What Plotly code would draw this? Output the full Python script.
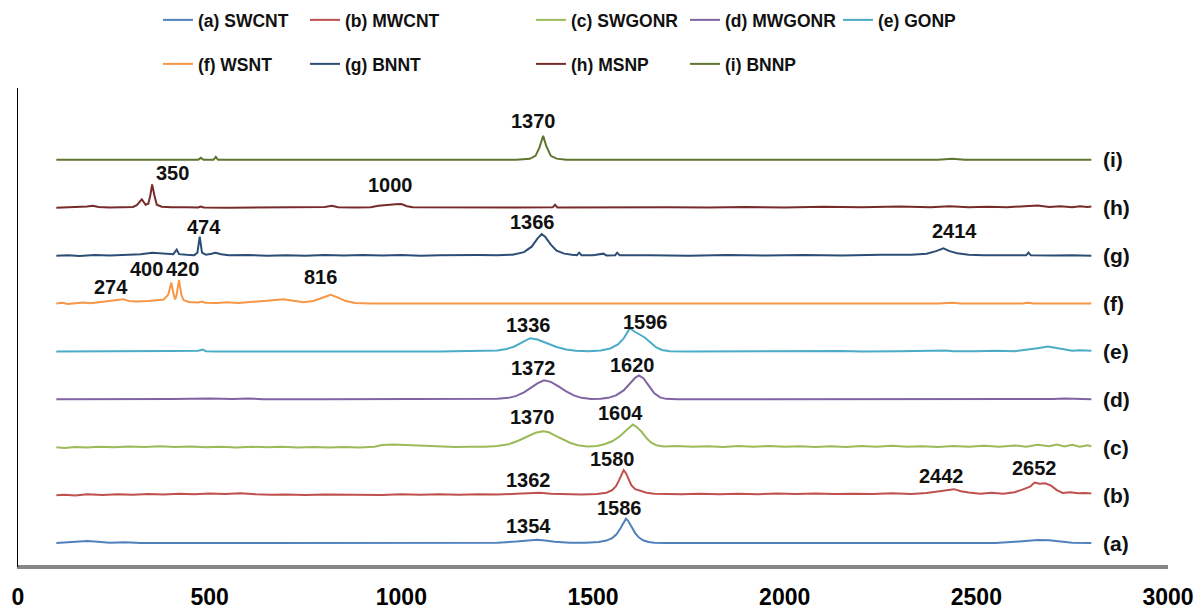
import plotly.graph_objects as go

# Raman spectra, (wavenumber cm-1, intensity a.u.) points for each sample
SWCNT = [(100, 0), (130, 0.8), (160, 1.8), (180, 2.0), (200, 1.5), (240, 0.3), (280, 0.8), (320, 0),
         (600, 0), (900, 0), (1150, 0), (1250, 0.4), (1300, 1.5), (1330, 2.8), (1354, 3.4), (1375, 2.6),
         (1400, 1.2), (1440, 0.4), (1480, 0.3), (1515, 1.0), (1535, 2.5), (1550, 5), (1562, 9), (1572, 15),
         (1580, 21), (1586, 24.4), (1592, 22), (1600, 17), (1610, 10), (1620, 5.5), (1632, 2.5), (1645, 1),
         (1660, 0.4), (1690, 0), (1800, 0), (2200, 0), (2550, 0), (2600, 1.2), (2640, 2.4), (2660, 3),
         (2690, 2.7), (2720, 1.2), (2750, 0.3), (2800, 0)]

MWCNT = [(100, 0), (120, 0.5), (150, -0.3), (180, 0.8), (220, 0.2), (260, 1.0), (300, 0.4), (340, 1.2),
         (380, 0.6), (420, 1.4), (460, 1.0), (500, 1.6), (540, 1.2), (580, 1.8), (620, 0.8), (660, 0.3),
         (700, 0.6), (750, 0.2), (800, 0.7), (850, 0.3), (900, 0.6), (950, 0.2), (1000, 0.9), (1050, 0.4),
         (1100, 0.8), (1150, 0.5), (1200, 1.0), (1250, 0.6), (1300, 1.3), (1335, 1.8), (1362, 2.4),
         (1390, 1.5), (1430, 0.9), (1470, 0.6), (1510, 1.2), (1535, 2.5), (1550, 5), (1560, 9), (1568, 15),
         (1574, 21), (1580, 25), (1586, 22), (1592, 16), (1600, 10), (1610, 6), (1625, 4), (1640, 2.5),
         (1660, 1.5), (1690, 1.2), (1730, 0.8), (1780, 1.4), (1830, 0.9), (1880, 1.5), (1930, 1.0),
         (1980, 1.6), (2030, 1.1), (2080, 1.7), (2130, 1.2), (2180, 1.5), (2230, 1.1), (2280, 1.8),
         (2330, 1.2), (2370, 2.2), (2400, 3.5), (2420, 4.5), (2442, 6), (2460, 4), (2480, 2.6), (2510, 1.5),
         (2540, 2.4), (2570, 1.3), (2600, 3), (2620, 5.5), (2640, 8.5), (2652, 12.6), (2665, 11.5),
         (2680, 11.8), (2695, 9.5), (2710, 5), (2725, 2.2), (2745, 2.8), (2765, 1.8), (2785, 2.2), (2800, 1.6)]

SWGONR = [(100, 0), (120, -0.8), (150, 0.3), (180, -0.2), (210, 0.6), (250, 0.1), (290, 0.8), (330, 0.2),
          (370, 0.9), (410, 0.3), (450, 0.7), (490, 0), (530, 0.6), (570, -0.2), (610, 0.5), (650, -0.1),
          (690, 0.4), (730, -0.3), (770, 0.3), (810, -0.2), (850, 0.2), (890, -0.3), (930, 0.6), (950, 2.2),
          (980, 2.8), (1010, 2.4), (1040, 2.0), (1070, 1.2), (1100, 0.6), (1140, 0.2), (1180, 0.5),
          (1220, 0.4), (1250, 1.2), (1280, 3), (1305, 6.5), (1330, 11), (1350, 14.5), (1370, 16),
          (1385, 15), (1400, 12), (1420, 8), (1440, 4.5), (1460, 2), (1485, 0.8), (1510, 1.2), (1530, 3),
          (1550, 6), (1570, 11), (1590, 18), (1604, 22.7), (1615, 20), (1628, 15), (1640, 9), (1652, 4.5),
          (1665, 2), (1685, 0.8), (1720, 1.2), (1760, 0.4), (1800, 1.0), (1840, 0.3), (1880, 1.2),
          (1920, 0.5), (1960, 1.3), (2000, 0.4), (2040, 1.1), (2080, 0.3), (2120, 1.0), (2160, 0.2),
          (2200, 1.2), (2240, 0.4), (2280, 1.6), (2320, 0.5), (2360, 1.0), (2400, 0.2), (2440, 1.2),
          (2480, 0.6), (2520, 1.4), (2560, 0.5), (2600, 1.8), (2630, 0.4), (2660, 2.6), (2690, 1.0),
          (2710, 2.8), (2730, 0.8), (2750, 2.5), (2770, 0.6), (2790, 2.0), (2800, 1.0)]

MWGONR = [(100, 0), (200, 0), (300, 0.5), (400, 0.3), (500, 0.8), (560, 0.3), (600, 0.8), (640, 0.2),
          (800, 0), (1000, 0), (1100, 0.5), (1140, 0.2), (1200, 0), (1250, 0.5), (1280, 1.5), (1300, 3.5),
          (1320, 7), (1340, 12), (1355, 16), (1372, 19), (1390, 17.5), (1410, 13), (1430, 8), (1450, 4),
          (1470, 1.5), (1495, 0.4), (1520, 0.5), (1540, 1.5), (1560, 4), (1580, 9), (1598, 16), (1610, 21.5),
          (1620, 24), (1632, 21), (1645, 14), (1660, 6), (1675, 2), (1690, 0.5), (1720, 0), (2600, 0),
          (2650, 0.6), (2700, 0.4), (2730, 0.8), (2760, 0.2), (2800, 0)]

GONP = [(100, 0), (300, 0), (400, 0.5), (470, 0.8), (482, 2), (490, 0.3), (520, 0), (1100, 0), (1200, 0.3),
        (1250, 1), (1275, 2.5), (1295, 5), (1315, 9), (1336, 13.3), (1355, 12), (1380, 8.5), (1405, 4.5),
        (1430, 2), (1455, 0.6), (1490, 0.2), (1520, 1), (1545, 3), (1565, 7), (1580, 13), (1590, 20),
        (1596, 23.3), (1606, 20.5), (1620, 17.5), (1635, 14), (1650, 9), (1665, 4), (1680, 1.5), (1700, 0.3),
        (1750, 0), (1900, 0.3), (2000, 0), (2150, 0.5), (2200, 0), (2250, 0.4), (2300, 0.3), (2420, 1.0),
        (2440, 0.2), (2500, 0.3), (2550, 0.8), (2600, 0.3), (2630, 1.5), (2660, 3.2), (2687, 5), (2710, 3.5),
        (2730, 2.2), (2750, 0.6), (2770, 1.2), (2790, 0.5), (2800, 0.8)]

WSNT = [(100, 0), (115, 0.8), (130, -0.4), (150, 0.5), (170, 1), (190, 0.3), (210, 1.2), (235, 2), (255, 3),
        (274, 4.4), (290, 2.5), (310, 2), (340, 2.5), (365, 3), (380, 4), (392, 9), (400, 21), (406, 9),
        (410, 4), (414, 9), (420, 23.7), (426, 9), (432, 3.5), (445, 1.5), (470, 1), (480, 2), (488, 0.8),
        (520, 0.5), (545, 1.2), (575, 0.6), (610, 1.5), (650, 2.8), (692, 4.4), (720, 3), (745, 1.2),
        (770, 2.5), (795, 6), (816, 8.7), (835, 6), (855, 2.5), (880, 0.6), (920, 0), (1500, 0), (2400, 0),
        (2437, 0.8), (2460, 0), (2620, 0), (2636, 0.8), (2650, 0), (2800, 0)]

BNNT = [(100, 0), (130, 0.5), (160, -0.3), (200, 0.6), (240, 0.2), (280, 0.8), (320, 1.5), (350, 3),
        (380, 2.5), (405, 1.5), (414, 6), (420, 1.5), (440, 0.8), (460, 0.5), (468, 3), (474, 19), (480, 3),
        (490, 1), (505, 2), (515, 3), (530, 1.5), (550, 0.3), (600, 0.6), (650, 0), (700, 0.5), (750, 0),
        (800, 0.6), (850, 0.1), (900, 0.7), (950, 0.2), (1000, 0.6), (1050, 0), (1100, 0.5), (1150, 0.2),
        (1200, 0.6), (1250, 0.4), (1290, 1), (1320, 3.5), (1340, 9), (1355, 17), (1366, 21.7), (1375, 19),
        (1390, 11), (1405, 5), (1425, 2), (1445, 0.8), (1458, 0.5), (1464, 3), (1470, 0.5), (1500, 0.3),
        (1527, 2), (1535, 0.2), (1558, 0.5), (1563, 3), (1570, 0.3), (1650, 0.5), (1750, 0), (1850, 0.6),
        (1950, 0.2), (2050, 0.7), (2150, 0.2), (2250, 0.8), (2330, 1), (2370, 2), (2395, 4.5), (2414, 7.3),
        (2430, 4.5), (2450, 2.5), (2480, 1), (2520, 0.5), (2580, 0.2), (2630, 0.3), (2636, 3), (2642, 0.3),
        (2700, 0.2), (2750, 0.5), (2800, 0)]

MSNP = [(100, 0), (150, 0.5), (180, 1.2), (195, 2), (210, 0.8), (240, 0.2), (270, 0.6), (300, 0.8),
        (310, 2.5), (323, 8.3), (333, 3), (340, 4), (345, 12), (350, 23.3), (356, 12), (362, 3), (375, 1),
        (400, 0.5), (440, 0.6), (470, 0.3), (476, 1.2), (485, 0.3), (550, 0), (650, 0.3), (750, 0.2),
        (800, 0.8), (819, 2), (835, 0.5), (880, 0.3), (920, 0.5), (940, 2), (965, 3.2), (985, 3.4),
        (1000, 3.7), (1015, 1.5), (1030, 0.4), (1100, 0.2), (1200, 0.5), (1300, 0.2), (1395, 0.4),
        (1401, 3), (1407, 0.3), (1500, 0.5), (1600, 0), (1700, 0.6), (1800, 0.2), (1900, 0.8), (2000, 0.3),
        (2100, 1.0), (2200, 0.4), (2300, 1.2), (2380, 0.5), (2430, 1.5), (2480, 0.5), (2530, 1.0),
        (2580, 0.6), (2630, 1.5), (2660, 2.2), (2690, 0.8), (2720, 1.6), (2750, 0.6), (2770, 1.5),
        (2790, 0.8), (2800, 1.2)]

BNNP = [(100, 0), (470, 0), (477, 2), (484, 0), (510, 0), (516, 3), (522, 0), (1300, 0), (1335, 1),
        (1350, 4), (1360, 12), (1370, 24), (1378, 14), (1390, 4), (1405, 1.2), (1430, 0), (2400, 0),
        (2437, 1), (2470, 0), (2800, 0)]

SERIES = [SWCNT, MWCNT, SWGONR, MWGONR, GONP, WSNT, BNNT, MSNP, BNNP]
NAMES = ["(a) SWCNT", "(b) MWCNT", "(c) SWGONR", "(d) MWGONR", "(e) GONP",
         "(f) WSNT", "(g) BNNT", "(h) MSNP", "(i) BNNP"]
TAGS = ["(a)", "(b)", "(c)", "(d)", "(e)", "(f)", "(g)", "(h)", "(i)"]
OFFSETS = [0, 48, 96, 144, 192, 240, 288, 336, 384]
COLORS = ["#4F81BD", "#C0504D", "#9BBB59", "#8064A2", "#4BACC6",
          "#F79646", "#2C4D75", "#772C2A", "#5F7530"]

# Peak labels: (series index, wavenumber, text centre x, text centre y)
PEAKS = [
    (0, 1354, 1333, 17.4), (0, 1586, 1568, 34.8),
    (1, 1362, 1333, 63.2), (1, 1580, 1552, 83.9), (1, 2442, 2408, 67.2), (1, 2652, 2653, 75.5),
    (2, 1370, 1342, 126), (2, 1604, 1573, 130),
    (3, 1372, 1346, 175.1), (3, 1620, 1602, 178.4),
    (4, 1336, 1333, 218.5), (4, 1596, 1638, 221.8),
    (5, 274, 243, 256.9), (5, 400, 336, 274.3), (5, 420, 430, 274.3), (5, 816, 790, 266.9),
    (6, 474, 485, 317), (6, 1366, 1342, 322), (6, 2414, 2443, 313),
    (7, 350, 403, 370.8), (7, 1000, 973, 358.8),
    (8, 1370, 1346, 423.2),
]

W, H = 1202, 611
ML, MR, MT, MB = 18, 34, 88, 44
X_RANGE = [0, 3000]
Y_RANGE = [-24, 456]

fig = go.Figure()
for i, (pts, name, off, col) in enumerate(zip(SERIES, NAMES, OFFSETS, COLORS)):
    fig.add_trace(go.Scatter(
        x=[p[0] for p in pts], y=[p[1] + off for p in pts],
        mode="lines", name=name, line=dict(color=col, width=2),
        legend="legend" if i == 0 else f"legend{i + 1}",
    ))

# grey baseline of the x axis, running along the bottom edge of the plot area
fig.add_trace(go.Scatter(
    x=X_RANGE, y=[Y_RANGE[0], Y_RANGE[0]], mode="lines",
    line=dict(color="#868686", width=4), showlegend=False, hoverinfo="skip",
))

annotations = []
for idx, wn, tx, ty in PEAKS:
    annotations.append(dict(x=tx, y=ty, xref="x", yref="y", text=str(wn), showarrow=False,
                            font=dict(family="Liberation Sans", size=20, color="#111111", weight="bold"),
                            xanchor="center", yanchor="middle"))
for tag, off in zip(TAGS, OFFSETS):
    annotations.append(dict(x=2825, y=off, xref="x", yref="y", text=tag, showarrow=False,
                            font=dict(family="Liberation Sans", size=21, color="#111111", weight="bold"),
                            xanchor="left", yanchor="middle"))

# legend entries laid out in two rows of columns (container coordinates)
col_px = [200, 347, 573, 727, 880, 200, 347, 573, 727]
row_px = [20, 20, 20, 20, 20, 64, 64, 64, 64]
legends = {}
for i, (cx, ry) in enumerate(zip(col_px, row_px)):
    key = "legend" if i == 0 else f"legend{i + 1}"
    legends[key] = dict(
        xref="container", yref="container",
        x=(cx - 42) / W, y=1 - ry / H, xanchor="left", yanchor="middle",
        orientation="h", bgcolor="rgba(0,0,0,0)", borderwidth=0,
        font=dict(family="Liberation Sans", size=17.5, color="#111111", weight="bold"),
    )

fig.update_layout(
    width=W, height=H, margin=dict(l=ML, r=MR, t=MT, b=MB, autoexpand=False),
    paper_bgcolor="white", plot_bgcolor="white",
    showlegend=True, annotations=annotations,
    xaxis=dict(range=X_RANGE, tickvals=[0, 500, 1000, 1500, 2000, 2500, 3000],
               showgrid=False, zeroline=False, showline=True, linecolor="#868686", linewidth=2,
               ticks="", ticklabelstandoff=8, automargin=False,
               tickfont=dict(family="Liberation Sans", size=23, color="#000000", weight="bold")),
    yaxis=dict(range=Y_RANGE, showticklabels=False, showgrid=False, zeroline=False,
               showline=True, linecolor="#000000", linewidth=1, ticks="", automargin=False),
    **legends,
)

fig.write_html("out.html")
